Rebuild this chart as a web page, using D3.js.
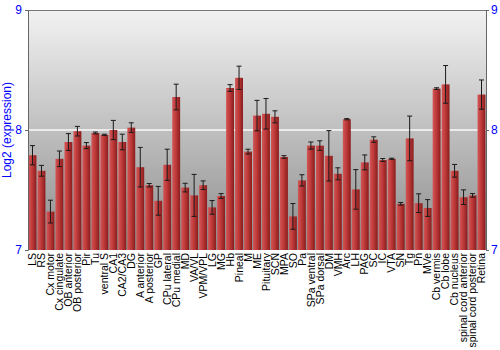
<!DOCTYPE html>
<html>
<head>
<meta charset="utf-8">
<script src="https://cdn.jsdelivr.net/npm/d3@7"></script>
<style>
  body { margin: 0; background: #fff; }
  text { font-family: "Liberation Sans", Arial, sans-serif; }
</style>
</head>
<body>
<div id="chart-area"></div>
<script>
const regions = ['LS', 'RS', 'Cx motor', 'Cx cingulate', 'OB anterior', 'OB posterior', 'Pir', 'Tu',
  'ventral S', 'CA1', 'CA2/CA3', 'DG', 'A anterior', 'A posterior', 'GP', 'CPu lateral', 'CPu medial',
  'MD', 'VA/VL', 'VPM/VPL', 'LG', 'MG', 'Hb', 'Pineal', 'M', 'ME', 'Pituitary', 'SCN', 'MPA', 'SO',
  'Pa', 'SPa ventral', 'SPa dorsal', 'DM', 'VMH', 'Arc', 'LH', 'PAG', 'SC', 'IC', 'VTA', 'SN', 'Tg',
  'Pn', 'MVe', 'Cb vermis', 'Cb lobe', 'Cb nucleus', 'spinal cord anterior', 'spinal cord posterior', 'Retina']

const expression = [7.79, 7.66, 7.32, 7.76, 7.90, 7.99, 7.87, 7.975, 7.96, 8.00, 7.90, 8.02, 7.69, 7.54,
  7.41, 7.71, 8.275, 7.52, 7.455, 7.54, 7.355, 7.45, 8.35, 8.435, 7.82, 8.12, 8.135, 8.11, 7.775, 7.28,
  7.58, 7.87, 7.87, 7.785, 7.635, 8.09, 7.505, 7.73, 7.92, 7.75, 7.76, 7.385, 7.93, 7.39, 7.35, 8.345,
  8.38, 7.66, 7.44, 7.455, 8.295]

const errors = [0.08, 0.045, 0.095, 0.065, 0.07, 0.04, 0.025, 0.008, 0.005, 0.08, 0.065, 0.04, 0.165,
  0.014, 0.12, 0.13, 0.107, 0.036, 0.175, 0.036, 0.057, 0.02, 0.028, 0.097, 0.02, 0.127, 0.127, 0.05,
  0.011, 0.107, 0.047, 0.03, 0.04, 0.21, 0.05, 0.005, 0.165, 0.062, 0.023, 0.012, 0.005, 0.011, 0.186,
  0.078, 0.07, 0.007, 0.157, 0.053, 0.061, 0.015, 0.122]

const yTicks = [7, 8, 9]

const margin = { left: 28, right: 14, top: 10, bottom: 100 }
const width = 500 - margin.left - margin.right
const height = 350 - margin.top - margin.bottom

const svg = d3.select('#chart-area').append('svg')
    .attr('width', 500)
    .attr('height', 350)

const defs = svg.append('defs')

const bgGrad = defs.append('linearGradient')
    .attr('id', 'bg-grad')
    .attr('x1', 0).attr('y1', 0).attr('x2', 0).attr('y2', 1)
bgGrad.append('stop').attr('offset', '0%').attr('stop-color', '#f2f2f2')
bgGrad.append('stop').attr('offset', '100%').attr('stop-color', '#8c8c8c')

const barGrad = defs.append('linearGradient')
    .attr('id', 'bar-grad')
    .attr('x1', 0).attr('y1', 0).attr('x2', 1).attr('y2', 0)
barGrad.append('stop').attr('offset', '0%').attr('stop-color', '#d25656')
barGrad.append('stop').attr('offset', '45%').attr('stop-color', '#bf3a3a')
barGrad.append('stop').attr('offset', '100%').attr('stop-color', '#8a1c1c')

const g = svg.append('g')
    .attr('transform', `translate(${margin.left}, ${margin.top})`)

const xScale = d3.scaleBand()
    .domain(regions)
    .range([0, width])
    .paddingInner(0.12)
    .paddingOuter(0.06)

const yScale = d3.scaleLinear()
    .domain([7, 9])
    .range([height, 0])

// plot background
g.append('rect')
    .attr('width', width)
    .attr('height', height)
    .attr('fill', 'url(#bg-grad)')

// white grid line
g.selectAll('.grid')
    .data(yTicks.filter(d => d === 8))
    .enter().append('line')
    .attr('class', 'grid')
    .attr('x1', 0).attr('x2', width)
    .attr('y1', d => yScale(d)).attr('y2', d => yScale(d))
    .attr('stroke', '#fafafa')
    .attr('stroke-width', 1.5)

// top border
g.append('line')
    .attr('x1', 0).attr('x2', width)
    .attr('y1', 0.5).attr('y2', 0.5)
    .attr('stroke', '#777')

const data = regions.map((r, i) => ({ name: r, value: expression[i], err: errors[i] }))

g.selectAll('.bar')
    .data(data)
    .enter().append('rect')
    .attr('class', 'bar')
    .attr('x', d => xScale(d.name))
    .attr('width', xScale.bandwidth())
    .attr('y', d => yScale(d.value))
    .attr('height', d => height - yScale(d.value))
    .attr('fill', 'url(#bar-grad)')

// error bars
const errG = g.selectAll('.err')
    .data(data)
    .enter().append('g')
    .attr('class', 'err')
    .attr('transform', d => `translate(${xScale(d.name) + xScale.bandwidth() / 2}, 0)`)
    .attr('stroke', '#1a1a1a')
    .attr('stroke-width', 1)

errG.append('line')
    .attr('x1', 0).attr('x2', 0)
    .attr('y1', d => yScale(d.value + d.err))
    .attr('y2', d => yScale(d.value - d.err))

errG.append('line')
    .attr('x1', -2.5).attr('x2', 2.5)
    .attr('y1', d => yScale(d.value + d.err))
    .attr('y2', d => yScale(d.value + d.err))

errG.append('line')
    .attr('x1', -2.5).attr('x2', 2.5)
    .attr('y1', d => yScale(d.value - d.err))
    .attr('y2', d => yScale(d.value - d.err))

// axes
const yAxisLeft = g.append('g')
    .call(d3.axisLeft(yScale).tickValues(yTicks).tickSize(3).tickPadding(3).tickFormat(d3.format('d')))
const yAxisRight = g.append('g')
    .attr('transform', `translate(${width}, 0)`)
    .call(d3.axisRight(yScale).tickValues(yTicks).tickSize(3).tickPadding(2).tickFormat(d3.format('d')))

;[yAxisLeft, yAxisRight].forEach(ax => {
    ax.select('.domain').attr('stroke', '#666')
    ax.selectAll('.tick line').attr('stroke', '#666')
    ax.selectAll('.tick text')
        .attr('fill', '#0000ff')
        .attr('font-size', '12px')
        .style('font-family', '"Liberation Sans", Arial, sans-serif')
})

const xAxis = g.append('g')
    .attr('transform', `translate(0, ${height})`)
    .call(d3.axisBottom(xScale).tickSize(0).tickPadding(3))
xAxis.select('.domain').remove()
xAxis.selectAll('text')
    .attr('transform', 'rotate(-90)')
    .attr('text-anchor', 'end')
    .attr('dy', '0.35em')
    .attr('x', -3)
    .attr('y', 0)
    .attr('fill', '#000')
    .attr('font-size', '10.5px')
    .style('font-family', '"Liberation Sans", Arial, sans-serif')

g.append('text')
    .attr('transform', 'rotate(-90)')
    .attr('x', -height / 2)
    .attr('y', -17)
    .attr('text-anchor', 'middle')
    .attr('fill', '#0000ff')
    .attr('font-size', '12px')
    .text('Log2 (expression)')
</script>
</body>
</html>
